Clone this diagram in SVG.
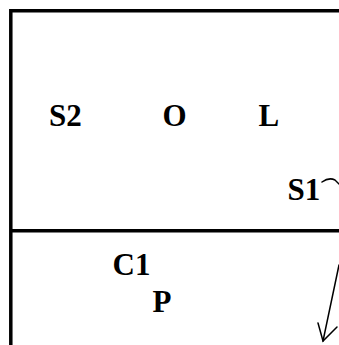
<svg xmlns="http://www.w3.org/2000/svg" width="339" height="345" viewBox="0 0 339 345">
  <style>
    .frame { fill: none; stroke: #000; stroke-width: 3.5; }
    .lbl { font-family: "Liberation Serif", "Times New Roman", serif; font-weight: bold; font-size: 31px; fill: #000; }
    .conn { fill: none; stroke: #000; stroke-width: 1.5; stroke-linecap: round; }
  </style>
  <rect width="339" height="345" fill="#fff"/>
  <!-- outer frame and divider -->
  <g id="frame">
    <path class="frame" d="M10.8,345 V10.8 H339"/>
    <path class="frame" d="M10.8,230.8 H339"/>
  </g>
  <g id="S2"><text class="lbl" x="49" y="126">S2</text></g>
  <g id="O"><text class="lbl" x="162.5" y="126">O</text></g>
  <g id="L"><text class="lbl" x="258.5" y="126">L</text></g>
  <g id="S1"><text class="lbl" x="287.5" y="199.5">S1</text></g>
  <g id="C1"><text class="lbl" x="112.5" y="275">C1</text></g>
  <g id="P"><text class="lbl" x="152.5" y="312">P</text></g>
  <g id="connectors">
    <path class="conn" d="M322,182 Q329,177 335,180 L339,184"/>
    <path class="conn" d="M339,265 L323,341"/>
    <path class="conn" d="M318,323 L323,341 L337,327"/>
  </g>
</svg>
